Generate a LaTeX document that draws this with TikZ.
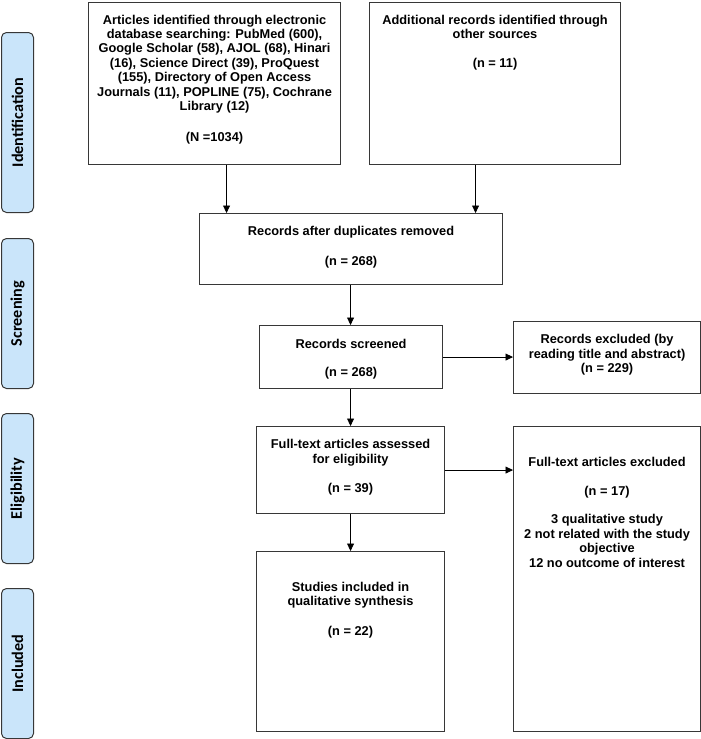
\documentclass[tikz,border=0pt]{standalone}
\usepackage{fontspec}
\setmainfont{Liberation Sans}
\newfontfamily\sidefont{Carlito}
\usetikzlibrary{arrows.meta,calc}
\definecolor{sideblue}{RGB}{202,229,250}
\definecolor{boxline}{RGB}{55,55,55}
\tikzset{
  box/.style={draw=boxline, line width=1.1pt, rectangle, inner sep=0pt, anchor=north west},
  txt/.style={anchor=north, align=center, inner sep=0pt, text=black,
    font=\fontsize{12.8}{14.4}\selectfont\bfseries},
  side/.style={draw=boxline, line width=1pt, fill=sideblue, rounded corners=5pt,
    minimum width=32pt, anchor=north west, inner sep=0pt},
  sidetxt/.style={rotate=90, inner sep=0pt, font=\sidefont\fontsize{16.2}{18}\selectfont\bfseries},
  arr/.style={line width=0.9pt, -{Triangle[length=7.5pt,width=7pt]}}
}
\begin{document}
\begin{tikzpicture}[x=1pt,y=-1pt]
\useasboundingbox (0,0) rectangle (701,739);
% side labels
\node[side, minimum height=180pt] (S1) at (1,32) {};
\node[sidetxt] (S1t) at (S1.center) {Identification};
\node[side, minimum height=150pt] (S2) at (1,238) {};
\node[sidetxt] (S2t) at (S2.center) {Screening};
\node[side, minimum height=150pt] (S3) at (1,413) {};
\node[sidetxt] (S3t) at (S3.center) {Eligibility};
\node[side, minimum height=150pt] (S4) at (1,588) {};
\node[sidetxt] (S4t) at (S4.center) {Included};
% boxes
\node[box, minimum width=252pt, minimum height=162pt] (A) at (88,1.5) {};
\node[txt] (At) at ([yshift=-12.4pt]A.north) {\strut Articles identified through electronic\\
database searching: PubMed (600),\\
Google Scholar (58), AJOL (68), Hinari\\
(16), Science Direct (39), ProQuest\\
(155), Directory of Open Access\\
Journals (11), POPLINE (75), Cochrane\\
Library (12)\\[17pt]
(N =1034)};
\node[box, minimum width=251pt, minimum height=162pt] (B) at (369,1.5) {};
\node[txt] (Bt) at ([yshift=-12.4pt]B.north) {\strut Additional records identified through\\
other sources\\[15pt]
(n = 11)};
\node[box, minimum width=303pt, minimum height=71pt] (C) at (199,213) {};
\node[txt] (Ct) at ([yshift=-12.4pt]C.north) {\strut Records after duplicates removed\\[15.5pt]
(n = 268)};
\node[box, minimum width=183pt, minimum height=63pt] (D) at (259,325) {};
\node[txt] (Dt) at ([yshift=-12.8pt]D.north) {\strut Records screened\\[14pt]
(n = 268)};
\node[box, minimum width=187pt, minimum height=72pt] (G) at (513,321) {};
\node[txt] (Gt) at ([yshift=-12.4pt]G.north) {\strut Records excluded (by\\
reading title and abstract)\\
(n = 229)};
\node[box, minimum width=188pt, minimum height=87pt] (E) at (256,426) {};
\node[txt] (Et) at ([yshift=-12.4pt]E.north) {\strut Full-text articles assessed\\
for eligibility\\[15.5pt]
(n = 39)};
\node[box, minimum width=187pt, minimum height=305pt] (H) at (513,426) {};
\node[txt] (Ht) at ([yshift=-30.1pt]H.north) {\strut Full-text articles excluded\\[14.6pt]
(n = 17)\\[14.2pt]
3 qualitative study\\
2 not related with the study\\
objective\\
12 no outcome of interest};
\node[box, minimum width=188pt, minimum height=180pt] (F) at (256,551) {};
\node[txt] (Ft) at ([yshift=-30pt]F.north) {\strut Studies included in\\
qualitative synthesis\\[15.5pt]
(n = 22)};
% connectors
\draw[arr] ([xshift=12pt]A.south) -- ([xshift=12pt]A.south |- C.north);
\draw[arr] ([xshift=-19.5pt]B.south) -- ([xshift=-19.5pt]B.south |- C.north);
\draw[arr] (C.south -| E.north) -- (D.north -| E.north);
\draw[arr] (D.south -| E.north) -- (E.north);
\draw[arr] (E.south) -- (F.north);
\draw[arr] (D.east) -- (D.east -| G.west);
\draw[arr] (E.east) -- (E.east -| H.west);
\end{tikzpicture}
\end{document}
